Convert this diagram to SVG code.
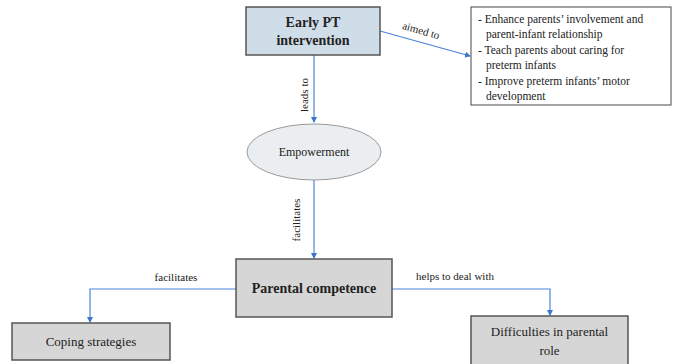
<svg xmlns="http://www.w3.org/2000/svg" width="674" height="364" viewBox="0 0 674 364">
  <style>
    text { font-family: "Liberation Serif", "DejaVu Serif", "Times New Roman", serif; fill: #222; }
    .box { fill: #d6d6d6; stroke: #555; stroke-width: 1.5; }
    .bold { font-weight: bold; font-size: 14px; }
    .lbl { font-size: 11px; }
    .item { font-size: 11.5px; }
    .edge { fill: none; stroke: #4a86d8; stroke-width: 1.2; }
  </style>
  <defs>
    <marker id="arr" viewBox="0 0 6 6" refX="5" refY="3" markerWidth="5" markerHeight="5" orient="auto">
      <path d="M0,0 L6,3 L0,6 z" fill="#3a78cc"/>
    </marker>
  </defs>
  <rect width="674" height="364" fill="#ffffff"/>

  <g id="connectors">
    <line class="edge" x1="380" y1="31" x2="470" y2="56" marker-end="url(#arr)"/>
    <line class="edge" x1="314" y1="55" x2="314" y2="122" marker-end="url(#arr)"/>
    <line class="edge" x1="314" y1="180" x2="314" y2="258" marker-end="url(#arr)"/>
    <polyline class="edge" points="236,289 90,289 90,322" marker-end="url(#arr)"/>
    <polyline class="edge" points="392,289 550,289 550,315" marker-end="url(#arr)"/>
    <text class="lbl" transform="translate(420,34) rotate(16)" text-anchor="middle">aimed to</text>
    <text class="lbl" transform="translate(308,95) rotate(-90)" text-anchor="middle">leads to</text>
    <text class="lbl" transform="translate(300,220) rotate(-90)" text-anchor="middle">facilitates</text>
    <text class="lbl" x="176" y="281" text-anchor="middle">facilitates</text>
    <text class="lbl" x="455" y="280" text-anchor="middle">helps to deal with</text>
  </g>

  <g id="early-pt">
    <rect x="246" y="7" width="134" height="48" fill="#cfdde9" stroke="#555" stroke-width="1.5"/>
    <text class="bold" x="313" y="27" text-anchor="middle">Early PT</text>
    <text class="bold" x="313" y="45" text-anchor="middle">intervention</text>
  </g>

  <g id="aims">
    <rect x="471" y="7" width="200" height="98" fill="#ffffff" stroke="#666" stroke-width="1.2"/>
    <text class="item" x="478" y="23">-  Enhance parents’ involvement and</text>
    <text class="item" x="486" y="38">parent-infant relationship</text>
    <text class="item" x="478" y="54">-  Teach parents about caring for</text>
    <text class="item" x="486" y="69">preterm infants</text>
    <text class="item" x="478" y="85">-  Improve preterm infants’ motor</text>
    <text class="item" x="486" y="100">development</text>
  </g>

  <g id="empowerment">
    <ellipse cx="314" cy="152" rx="67" ry="28" fill="#ebeef0" stroke="#999" stroke-width="1"/>
    <text x="314" y="156" font-size="12" text-anchor="middle">Empowerment</text>
  </g>

  <g id="parental-competence">
    <rect class="box" x="236" y="259" width="156" height="58"/>
    <text class="bold" x="314" y="293" text-anchor="middle">Parental competence</text>
  </g>

  <g id="coping">
    <rect class="box" x="12" y="323" width="158" height="37"/>
    <text x="91" y="346" font-size="13" text-anchor="middle">Coping strategies</text>
  </g>

  <g id="difficulties">
    <rect class="box" x="471" y="316" width="157" height="52"/>
    <text x="549.5" y="336" font-size="13" text-anchor="middle">Difficulties in parental</text>
    <text x="549.5" y="355" font-size="13" text-anchor="middle">role</text>
  </g>
</svg>
